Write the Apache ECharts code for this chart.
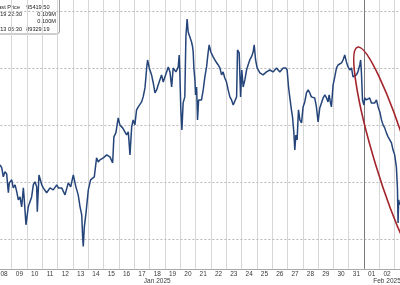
<!DOCTYPE html>
<html>
<head>
<meta charset="utf-8">
<script src="https://cdn.jsdelivr.net/npm/echarts@6/dist/echarts.min.js"></script>
<style>
html,body{margin:0;padding:0;background:#fff;overflow:hidden;width:400px;height:285px;}
#c{position:absolute;left:-4px;top:0;width:414px;height:285px;}
</style>
</head>
<body>
<div id="c"></div>
<script>
// Day labels along the bottom axis (Jan 08 .. Feb 03)
const dayLabels = ['08','09','10','11','12','13','14','15','16','17','18','19','20','21','22','23','24','25','26','27','28','29','30','31','01','02','03'];
// Month captions under a given day label index
const monthIndex = [10, 25];
const monthText = ['Jan 2025', 'Feb 2025'];
// Horizontal reference levels
const gridLevels = [90000, 95000, 100000, 105000, 110000];
// Time in days (Jan day number, fractional), price in USD
const times = [8.24,8.35,8.45,8.56,8.67,8.78,8.84,9.00,9.10,9.22,9.33,9.43,9.54,9.65,9.76,9.82,9.93,10.08,10.30,10.41,
10.52,10.63,10.67,10.78,10.96,11.06,11.28,11.50,11.71,11.94,12.04,12.26,12.48,12.69,12.85,13.02,13.19,13.34,13.46,13.57,
13.63,13.67,13.74,13.85,13.93,14.00,14.15,14.28,14.39,14.54,14.65,14.76,14.98,15.20,15.41,15.59,15.67,15.80,15.95,16.06,
16.24,16.39,16.50,16.61,16.72,16.83,16.93,17.04,17.15,17.26,17.37,17.48,17.58,17.70,17.81,17.87,17.98,18.13,18.24,18.35,
18.46,18.56,18.67,18.78,18.89,19.00,19.11,19.22,19.33,19.44,19.54,19.72,19.87,19.93,19.98,20.04,20.11,20.19,20.30,20.37,
20.45,20.52,20.63,20.74,20.81,20.85,20.89,20.96,21.00,21.07,21.13,21.20,21.28,21.39,21.50,21.61,21.72,21.82,21.89,22.00,
22.15,22.26,22.48,22.59,22.70,22.80,22.91,23.02,23.13,23.24,23.35,23.46,23.57,23.68,23.74,23.85,23.94,24.02,24.11,24.22,
24.33,24.43,24.54,24.65,24.76,24.83,24.92,25.02,25.20,25.41,25.63,25.85,26.06,26.29,26.50,26.72,26.89,26.98,27.07,27.15,
27.26,27.33,27.42,27.48,27.55,27.63,27.72,27.81,27.92,28.02,28.13,28.24,28.35,28.46,28.56,28.67,28.78,28.89,29.00,29.11,
29.22,29.33,29.44,29.55,29.65,29.72,29.81,29.87,29.94,29.98,30.09,30.20,30.30,30.42,30.53,30.63,30.74,30.85,30.96,31.07,
31.18,31.28,31.39,31.50,31.60,31.72,31.78,31.83,31.90,31.99,32.05,32.16,32.26,32.37,32.48,32.59,32.70,32.81,32.92,33.03,
33.14,33.24,33.35,33.46,33.57,33.68,33.79,33.89,34.00,34.11,34.18,34.22,34.26,34.33];
const prices = [96490,96230,95440,95880,95700,94040,94910,95180,94470,94740,94120,93420,93680,92810,94470,93420,91230,92810,93680,94740,
95000,94560,92370,95610,94740,94470,94040,94470,94300,94740,94470,94470,93860,94910,94560,95610,94560,93860,92810,92110,
90180,89330,91050,92280,92110,94300,95180,95180,95440,97110,96750,96930,97110,97370,97190,96670,98950,99300,100610,100000,
99740,99390,99120,99390,97370,99820,100440,100000,101320,101580,101750,102020,102460,103250,105000,105700,105000,104390,103680,102810,
103070,103510,103950,104390,103770,104210,104650,105090,104650,103330,105000,104650,105090,106140,104390,101320,99560,101930,102460,107720,
109300,108160,107720,107280,106840,106320,105000,103950,102630,103330,100440,102190,102190,102190,103070,104210,105090,106320,107020,106400,
105970,105700,105260,105000,104390,104650,104120,103770,103070,102460,102190,101750,101580,102460,106580,106320,102460,104820,103330,103950,
104820,105260,105700,105970,106400,107020,105700,105000,104560,104390,104650,104820,104650,105000,104650,105000,105000,104820,103330,102460,
101320,100700,99300,97810,99120,98680,101320,100440,100180,101580,102020,102810,103070,102810,102460,102630,102370,101580,100260,101490,
101930,102370,102630,102370,102020,102630,101930,101580,102810,103510,104210,105000,105260,105090,105440,105700,106140,105530,105090,104820,
105000,104210,104120,104390,104650,105260,105700,104560,102190,101750,102370,102190,102020,102370,101930,102020,101930,102190,101580,101140,
100440,100000,99740,99300,98950,98860,98420,97810,97370,96320,94470,91400,93420,92980];
// Legend table rows
const legendLabels = ['Last Price', 'High on 01/19 22:30', 'Average', 'Low on 01/13 06:30'];
const legendValues = ['95419.50', '0.109M', '0.100M', '89329.19'];

const chart = echarts.init(document.getElementById('c'), null, {renderer: 'canvas'});
const FONT = 'Liberation Sans';

const legendRowY = [7.3, 14.4, 21.6, 29.2];
const legendLabelRight = [20, 22, -3, 22];
const legendValueRight = [49.5, 56, 56, 49.5];
const legendChildren = [{
  type: 'rect',
  shape: {x: -10, y: -10, width: 69.5, height: 44, r: 3},
  style: {fill: '#fff', stroke: '#9c9c9c', lineWidth: 1}
}];
legendLabels.forEach((t, i) => {
  legendChildren.push({type: 'text', x: legendLabelRight[i], y: legendRowY[i],
    style: {text: t, fill: '#222', font: '5.6px ' + FONT, textAlign: 'right', textVerticalAlign: 'middle'}});
  legendChildren.push({type: 'text', x: legendValueRight[i], y: legendRowY[i],
    style: {text: legendValues[i], fill: '#222', font: '5.6px ' + FONT, textAlign: 'right', textVerticalAlign: 'middle'}});
});

const option = {
  animation: false,
  backgroundColor: '#fff',
  grid: {left: 0.4, right: 0, top: 0, bottom: 16, containLabel: false},
  xAxis: [{
    type: 'category',
    data: dayLabels,
    boundaryGap: true,
    axisLine: {show: true, lineStyle: {color: '#a9a9a9', width: 1}},
    axisTick: {show: true, interval: function (i) { return i === 24; }, length: 16, lineStyle: {color: '#6e6e6e', width: 1}},
    axisLabel: {
      interval: 0, margin: 1, color: '#3a3a3a', fontFamily: FONT, fontSize: 6.5,
      formatter: function (v, i) {
        if (i === dayLabels.length - 1) return '';
        const k = monthIndex.indexOf(i);
        if (k >= 0) return '{d|' + v + '}\n{m|' + monthText[k] + '}';
        return '{d|' + v + '}';
      },
      rich: {
        d: {fontFamily: FONT, fontSize: 6.5, lineHeight: 8, color: '#3a3a3a'},
        m: {fontFamily: FONT, fontSize: 6.5, lineHeight: 7.4, color: '#3a3a3a'}
      }
    },
    splitLine: {show: true, interval: 0, lineStyle: {color: '#d6d6d6', width: 1}}
  }, {
    type: 'value', min: 8, max: 35, show: false
  }],
  yAxis: {type: 'value', min: 87368, max: 110965, show: false},
  series: [{
    type: 'line',
    xAxisIndex: 1,
    data: times.map((t, i) => [t, prices[i]]),
    symbol: 'none',
    z: 3,
    lineStyle: {color: '#25457a', width: 1.5},
    markLine: {
      silent: true, z: 1, symbol: ['none', 'none'], label: {show: false},
      data: gridLevels.map(v => ({yAxis: v, lineStyle: {type: [2, 2], color: '#b8b8b8', width: 1}}))
        .concat([{xAxis: 32, lineStyle: {type: 'solid', color: '#7a7a7a', width: 1}}])
    }
  }],
  graphic: [{
    type: 'ellipse', x: 396, y: 160, rotation: 0.297, z: 10,
    shape: {cx: 0, cy: 0, rx: 17, ry: 118},
    style: {fill: 'none', stroke: '#a3242b', lineWidth: 1.6}
  }, {
    type: 'group', x: 4, y: 0, z: 20, children: legendChildren
  }]
};
chart.setOption(option);
</script>
</body>
</html>
